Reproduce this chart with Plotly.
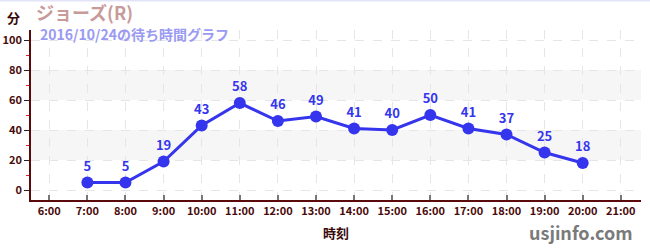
import plotly.graph_objects as go

hours = [7, 8, 9, 10, 11, 12, 13, 14, 15, 16, 17, 18, 19, 20]
waits = [5, 5, 19, 43, 58, 46, 49, 41, 40, 50, 41, 37, 25, 18]
tick_hours = list(range(6, 22))
tick_labels = [f"{h}:00" for h in tick_hours]
y_ticks = [0, 20, 40, 60, 80, 100]
bands = [(20, 40), (60, 80)]

FONT = "Noto Sans CJK JP"
AXIS = "#5a0a0a"
BLUE = "#3535ee"

L, R, T, B = 31, 9, 30, 50
W, H = 650, 250
pw, ph = W - L - R, H - T - B

def px(x):
    return (x - L) / pw

def py(y):
    return (H - B - y) / ph

fig = go.Figure()
fig.add_trace(go.Scatter(
    x=hours, y=waits, mode="lines+markers+text",
    text=[str(v) for v in waits], textposition="top center",
    textfont=dict(family=FONT, size=13, color=BLUE, weight="bold"),
    line=dict(color=BLUE, width=3),
    marker=dict(color=BLUE, size=12),
    cliponaxis=False, hoverinfo="skip",
))

shapes = []
for a, b in bands:
    shapes.append(dict(type="rect", xref="paper", yref="y", x0=0, x1=1, y0=a, y1=b,
                       fillcolor="#f6f6f6", line=dict(width=0), layer="below"))
shapes.append(dict(type="line", xref="paper", yref="paper", x0=-1, x1=2,
                   y0=py(0.5), y1=py(0.5), line=dict(color="#e4e4f8", width=2)))

annotations = [
    dict(text="分", x=px(13), y=py(17), xref="paper", yref="paper", showarrow=False,
         xanchor="center", yanchor="middle",
         font=dict(family=FONT, size=13, color="#3a0a0a", weight="bold")),
    dict(text="ジョーズ(R)", x=px(34), y=py(12), xref="paper", yref="paper", showarrow=False,
         xanchor="left", yanchor="middle",
         font=dict(family=FONT, size=18, color="#c99a9a", weight="bold")),
    dict(text="2016/10/24の待ち時間グラフ", x=px(38), y=py(33.5), xref="paper", yref="paper",
         showarrow=False, xanchor="left", yanchor="middle",
         font=dict(family=FONT, size=14, color="#9a9af2", weight="bold")),
    dict(text="時刻", x=px(336), y=py(232), xref="paper", yref="paper", showarrow=False,
         xanchor="center", yanchor="middle",
         font=dict(family=FONT, size=13, color="#3a0a0a", weight="bold")),
    dict(text="usjinfo.com", x=px(635), y=py(232), xref="paper", yref="paper", showarrow=False,
         xanchor="right", yanchor="middle",
         font=dict(family=FONT, size=18, color="#7a7a7a", weight="bold")),
]

fig.update_layout(
    width=W, height=H,
    margin=dict(l=L, r=R, t=T, b=B, autoexpand=False),
    paper_bgcolor="white", plot_bgcolor="white",
    showlegend=False,
    shapes=shapes, annotations=annotations,
    xaxis=dict(
        range=[5.52, 21.53], tickvals=tick_hours, ticktext=tick_labels,
        showline=True, linecolor=AXIS, linewidth=1.5,
        ticks="inside", ticklen=5, tickcolor="#777777", tickwidth=1.5,
        showgrid=True, gridcolor="#e6e6e6", griddash="dash", gridwidth=1,
        zeroline=False, automargin=False,
        tickfont=dict(family=FONT, size=11, color="#4a0a0a", weight="bold"),
        fixedrange=True,
    ),
    yaxis=dict(
        range=[-6.67, 106.7], tickvals=y_ticks,
        showline=True, linecolor=AXIS, linewidth=1.5,
        ticks="outside", ticklen=5, tickcolor="#222222", tickwidth=1.2,
        minor=dict(dtick=10, tick0=0, ticks="outside", ticklen=3, tickcolor="#dd2222", showgrid=False),
        showgrid=True, gridcolor="#e6e6e6", griddash="dash", gridwidth=1,
        zeroline=False, automargin=False,
        tickfont=dict(family=FONT, size=11, color="#4a0a0a", weight="bold"),
        fixedrange=True,
    ),
)

fig.write_html("out.html")
